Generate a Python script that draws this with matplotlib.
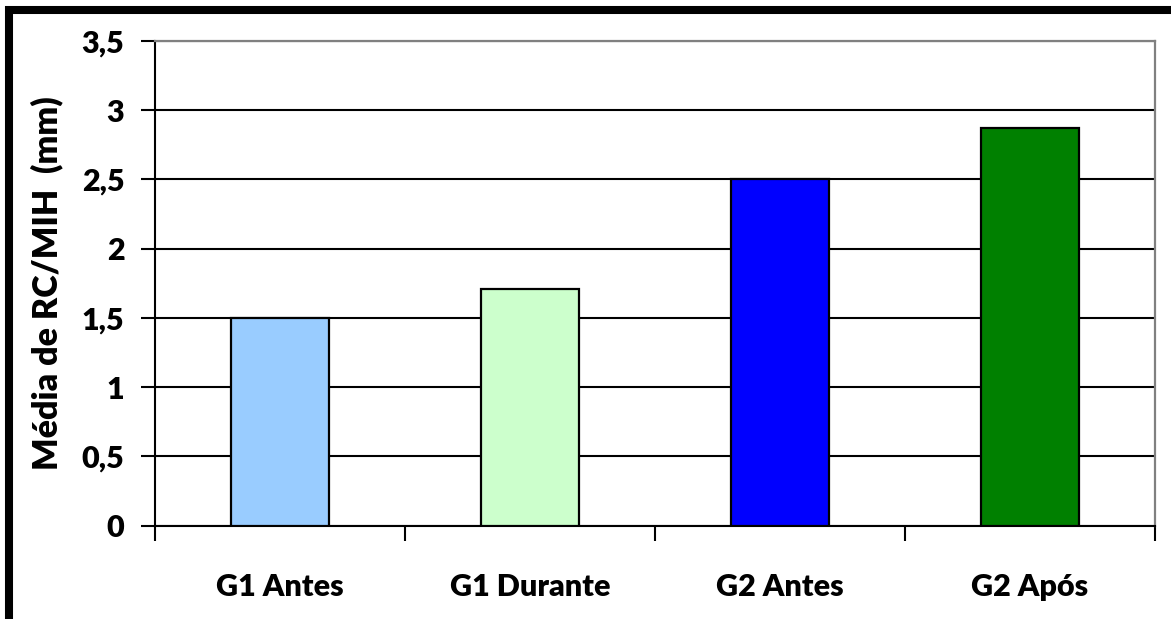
import matplotlib.pyplot as plt
from matplotlib.patches import Rectangle
from matplotlib.ticker import FixedLocator, FuncFormatter

plt.rcParams['font.family'] = ['Lato', 'DejaVu Sans']
plt.rcParams['font.weight'] = 'heavy'

grupos = ['G1 Antes', 'G1 Durante', 'G2 Antes', 'G2 Após']
medias = [1.5, 1.71, 2.5, 2.87]
cores = ['#99CCFF', '#CCFFCC', '#0000FF', '#008000']
y_ticks = [0, 0.5, 1, 1.5, 2, 2.5, 3, 3.5]

W, H = 1171, 619
fig = plt.figure(figsize=(W / 100, H / 100), dpi=100)
ax = fig.add_axes([155 / W, 1 - 525.5 / H, 1000 / W, 484.5 / H])

pos = range(len(grupos))
ax.bar(pos, medias, width=0.39, color=cores, edgecolor='black', linewidth=1.6, zorder=3)

ax.set_xlim(-0.5, len(grupos) - 0.5)
ax.set_ylim(0, 3.5)
ax.set_yticks(y_ticks)
ax.yaxis.set_major_formatter(FuncFormatter(lambda v, _: f'{v:g}'.replace('.', ',')))
ax.yaxis.grid(True, color='black', linewidth=1.5, zorder=0)

ax.set_xticks(list(pos))
ax.set_xticklabels(grupos)
ax.xaxis.set_minor_locator(FixedLocator([i - 0.5 for i in range(len(grupos) + 1)]))
ax.tick_params(axis='x', which='major', length=0, pad=34, labelsize=22)
ax.tick_params(axis='x', which='minor', length=11, width=1.5, direction='out')
ax.tick_params(axis='y', length=10, width=1.5, pad=12, labelsize=22)

for s in ['left', 'bottom']:
    ax.spines[s].set_color('black')
    ax.spines[s].set_linewidth(1.5)
for s in ['top', 'right']:
    ax.spines[s].set_color('#808080')
    ax.spines[s].set_linewidth(1.6)

ax.set_ylabel('Média de RC/MIH  (mm)', fontsize=24.5, fontweight='heavy', labelpad=13)

# moldura externa
fig.patches.append(Rectangle((9 / W, 1 - 621 / H), (1180 - 9) / W, (621 - 10) / H,
                             transform=fig.transFigure, fill=False,
                             edgecolor='black', linewidth=5.8, clip_on=False))

fig.savefig('out.png', dpi=100)
